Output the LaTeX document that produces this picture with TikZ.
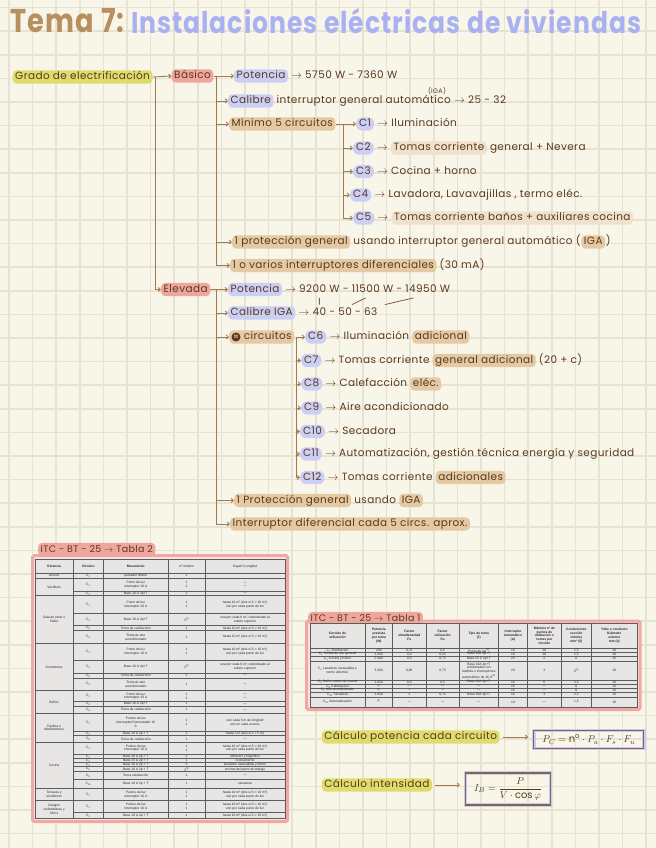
\documentclass[tikz,border=0pt]{standalone}
\usepackage{fontspec}
\usepackage{graphicx}
\setmainfont{Poppins}[LetterSpace=4]
\newfontfamily\tabfont{Liberation Sans}
\usetikzlibrary{arrows.meta,calc}
\definecolor{paper}{HTML}{F8F5E9}
\definecolor{gridc}{HTML}{E6E2D4}
\definecolor{ink}{HTML}{5A3A1C}
\definecolor{linec}{HTML}{A37A50}
\definecolor{hlY}{HTML}{DDDD6E}
\definecolor{hlR}{HTML}{EFA69E}
\definecolor{hlB}{HTML}{CBCFF5}
\definecolor{hlT}{HTML}{E4C9A2}
\definecolor{ttan}{HTML}{B88F5E}
\definecolor{tlav}{HTML}{AAB1F2}
\definecolor{pinkf}{HTML}{F2A7A4}
\definecolor{tgray}{HTML}{E8E5E5}
\definecolor{tline}{HTML}{5C5C5C}
\definecolor{lav}{HTML}{C9CCF2}
\definecolor{boxb}{HTML}{85664C}
\tikzset{
  gridline/.style={draw=gridc, line width=1.6bp},
  txt/.style={anchor=west, inner sep=0pt, text=ink, text height=7.5bp, text depth=2.2bp, font=\fontsize{10.5}{12}\selectfont},
  hl/.style={txt, inner xsep=2.5bp, inner ysep=1.8bp, rounded corners=4bp},
  hly/.style={hl, fill=hlY},
  hlr/.style={hl, fill=hlR},
  hlb/.style={hl, fill=hlB},
  hlt/.style={hl, fill=hlT},
  hltl/.style={hl, fill=hlT!55},
  hlc/.style={hl, fill=hlB, rounded corners=6bp, inner xsep=3bp},
  arr/.style={draw=linec, line width=0.9bp, -{Straight Barb[length=2.2bp,width=4bp]}},
  br/.style={draw=linec, line width=0.9bp},
  tick/.style={draw=ink!80, line width=0.8bp},
  tl/.style={draw=tline, line width=0.55bp},
  tc/.style={inner sep=0pt, align=center, text=black!85, font=\tabfont\fontsize{3.3}{3.75}\selectfont},
  th/.style={tc, font=\tabfont\bfseries\fontsize{3.3}{3.75}\selectfont},
  fbox/.style={anchor=west, draw=boxb, line width=1.1bp, text=ink, inner sep=2bp,
     preaction={draw=lav, line width=3.4bp}, font=\fontsize{10}{12}\selectfont},
  c11/.style={circle, fill=ink, text=paper, inner sep=0pt, minimum size=9bp, font=\fontsize{4.5}{5}\selectfont\bfseries},
}
\newcommand\ar{$\rightarrow$}
\newcommand\sbs[1]{\textsubscript{#1}}
\newcommand\sps[1]{\textsuperscript{#1}}
\newcommand\seg[5][2.8bp]{\node[#2] (#3) at ([xshift=#1]#4.east) {#5};}
\def\taxs{{310,365,392.7,426,459.3,498.3,527.7,561,591.7,637}}
\def\tbxs{{35,73.3,103.3,168.3,205,285}}
\newcommand\tarow[4]{%
  \draw[tl] (310,#3) -- (637,#3);
  \foreach \cell [count=\i] in {#4} {
    \pgfmathsetmacro\xl{\taxs[\i-1]}\pgfmathsetmacro\xr{\taxs[\i]}
    \node[tc] (ta-#1-\i) at ({(\xl+\xr)/2},{(#2+#3)/2}) {\cell};
  }}
\newcommand\tbrow[4]{%
  \draw[tl] (73.3,#3) -- (285,#3);
  \foreach \cell [count=\i] in {#4} {
    \pgfmathsetmacro\xl{\tbxs[\i]}\pgfmathsetmacro\xr{\tbxs[\i+1]}
    \node[tc] (tb-#1-\i) at ({(\xl+\xr)/2},{(#2+#3)/2}) {\cell};
  }}
\newcommand\tbgrp[4]{%
  \draw[tl] (35,#3) -- (285,#3);
  \node[tc] (tg-#1) at (54.15,{(#2+#3)/2}) {#4};}
\begin{document}
\begin{tikzpicture}[x=1bp,y=-1bp]
\fill[paper] (0,0) rectangle (656,848);
\useasboundingbox (0,0) rectangle (656,848);
\foreach \k in {0,...,27} \draw[gridline] ({9+23.6*\k},0) -- ({9+23.6*\k},848);
\foreach \k in {0,...,35} \draw[gridline] (0,{7.5+23.6*\k}) -- (656,{7.5+23.6*\k});

% title
\node[anchor=base west, inner sep=0, text=ttan, font=\bfseries] (ttl1) at (10.5,33) {\resizebox{114bp}{24bp}{Tema 7:}};
\node[anchor=base west, inner sep=0, text=tlav, font=\bfseries] (ttl2) at (131,33) {\resizebox{510bp}{25bp}{Instalaciones eléctricas de viviendas}};

% level 1
\node[hly] (grado) at (12.5,77) {Grado de electrificación};
\node[hlr] (basico) at (171.5,76) {Básico};
\node[hlr] (elevada) at (161,289.5) {Elevada};
\coordinate (gj) at (155.6,77);
\draw[arr] (grado.east) -- (basico.west);
\draw[arr] (gj) |- (elevada.west);

% basico branch
\coordinate (bj) at (216.7,76);
\node[hlb] (bpot) at (234,76) {Potencia};
\seg{txt}{bpott}{bpot}{\ar\ 5750 W - 7360 W}
\node[txt, anchor=center, font=\fontsize{6.5}{7}\selectfont] (iga1) at (437,90.5) {(IGA)};
\node[hlb] (bcal) at (228,101) {Calibre};
\seg{txt}{bcalt}{bcal}{interruptor general automático \ar\ 25 - 32}
\node[hlt] (bmin) at (229,124) {Mínimo 5 circuitos};
\node[hlt] (bprot) at (232,242) {1 protección general};
\seg{txt}{bprott}{bprot}{usando interruptor general automático (}
\seg[0.5bp]{hlt}{bprotiga}{bprott}{IGA}
\seg[0.5bp]{txt}{bprotp}{bprotiga}{)}
\node[hlt] (bdif) at (230,265.5) {1 o varios interruptores diferenciales};
\seg{txt}{bdift}{bdif}{(30 mA)}
\draw[br] (basico.east) -- (bj);
\foreach \n in {bpot,bcal,bmin,bprot,bdif} \draw[arr] (bj) |- (\n.west);

% C1-C5
\coordinate (mj) at (343,124);
\node[hlc] (c1) at (356,124) {C1};
\seg{txt}{c1t}{c1}{\ar\ Iluminación}
\node[hlc] (c2) at (353,148) {C2};
\seg{txt}{c2a}{c2}{\ar}
\seg{hltl}{c2b}{c2a}{Tomas corriente}
\seg{txt}{c2c}{c2b}{general + Nevera}
\node[hlc] (c3) at (353,171.5) {C3};
\seg{txt}{c3t}{c3}{\ar\ Cocina + horno}
\node[hlc] (c4) at (350,195) {C4};
\seg{txt}{c4t}{c4}{\ar\ Lavadora, Lavavajillas , termo eléc.}
\node[hlc] (c5) at (353,218) {C5};
\seg{txt}{c5a}{c5}{\ar}
\seg{hltl}{c5b}{c5a}{Tomas corriente baños + auxiliares cocina}
\draw[br] (bmin.east) -- (mj);
\foreach \n in {c1,c2,c3,c4,c5} \draw[arr] (mj) |- (\n.west);

% elevada branch
\coordinate (ej) at (216.7,289.5);
\node[hlb] (epot) at (228,289.5) {Potencia};
\seg{txt}{epota}{epot}{\ar}
\seg{txt}{v1}{epota}{9200 W}
\seg{txt}{epotb}{v1}{-}
\seg{txt}{v2}{epotb}{11500 W}
\seg{txt}{epotc}{v2}{-}
\seg{txt}{v3}{epotc}{14950 W}
\node[hlb] (ecal) at (228,313) {Calibre IGA};
\seg{txt}{ecala}{ecal}{\ar}
\seg{txt}{a1}{ecala}{40}
\seg{txt}{ecalb}{a1}{-}
\seg{txt}{a2}{ecalb}{50}
\seg{txt}{ecalc}{a2}{-}
\seg{txt}{a3}{ecalc}{63}
\draw[tick] ($(v1.south)!0.25!(a1.north)$) -- ($(v1.south)!0.75!(a1.north)$);
\draw[tick] ($(v2.south)!0.25!(a2.north)$) -- ($(v2.south)!0.75!(a2.north)$);
\draw[tick] ($(v3.south)!0.25!(a3.north)$) -- ($(v3.south)!0.75!(a3.north)$);
\node[hlt] (ecirc) at (229,337) {\hspace{9bp} circuitos};
\node[c11] (n11) at ([xshift=7bp]ecirc.west) {11};
\node[hlt] (eprot) at (234,500.5) {1 Protección general};
\seg{txt}{eprott}{eprot}{usando}
\seg{hlt}{eprotiga}{eprott}{IGA}
\node[hlt] (edif) at (230,524) {Interruptor diferencial cada 5 circs. aprox.};
\draw[br] (elevada.east) -- (ej);
\foreach \n in {epot,ecal,ecirc,eprot,edif} \draw[arr] (ej) |- (\n.west);

% C6-C12
\coordinate (cj) at ([xshift=2bp]ecirc.east);
\node[hlc] (c6) at (305,337) {C6};
\seg{txt}{c6a}{c6}{\ar\ Iluminación}
\seg{hlt}{c6b}{c6a}{adicional}
\node[hlc] (c7) at (301,360.5) {C7};
\seg{txt}{c7a}{c7}{\ar\ Tomas corriente}
\seg{hlt}{c7b}{c7a}{general adicional}
\seg{txt}{c7c}{c7b}{(20 + c)}
\node[hlc] (c8) at (301,384) {C8};
\seg{txt}{c8a}{c8}{\ar\ Calefacción}
\seg{hlt}{c8b}{c8a}{eléc.}
\node[hlc] (c9) at (301,408) {C9};
\seg{txt}{c9t}{c9}{\ar\ Aire acondicionado}
\node[hlc] (c10) at (300,431.5) {C10};
\seg{txt}{c10t}{c10}{\ar\ Secadora}
\node[hlc] (c11) at (300,454) {C11};
\seg{txt}{c11t}{c11}{\ar\ Automatización, gestión técnica energía y seguridad}
\node[hlc] (c12) at (300,477.5) {C12};
\seg{txt}{c12a}{c12}{\ar\ Tomas corriente}
\seg{hlt}{c12b}{c12a}{adicionales}
\foreach \n in {c6,c7,c8,c9,c10,c11,c12} \draw[arr] (cj) |- (\n.west);

% ---------- Tabla 2 ----------
\draw[pinkf, line width=3bp, fill=pinkf!30, rounded corners=1.5bp] (32.7,555.5) rectangle (287.5,821.5);
\node[hlr, font=\fontsize{9.5}{10}\selectfont] (t2ttl) at (38,549.5) {ITC - BT - 25 \ar\ Tabla 2};
\fill[tgray] (35,559) rectangle (285,818.3);
\draw[tl] (35,559) rectangle (285,818.3);
\foreach \x in {73.3,103.3,168.3,205} \draw[tl] (\x,559) -- (\x,818.3);
\draw[tl] (35,573.3) -- (285,573.3);
\node[th] (h2a) at (54.15,566.2) {Estancia};
\node[th] (h2b) at (88.3,566.2) {Circuito};
\node[th] (h2c) at (135.8,566.2) {Mecanismo};
\node[tc] (h2d) at (186.65,566.2) {nº mínimo};
\node[tc] (h2e) at (245,566.2) {Superf./Longitud};
\tbrow{1}{573.3}{578.3}{C\sbs{1},pulsador timbre,1,{}}
\tbgrp{a}{573.3}{578.3}{Acceso}
\tbrow{2}{578.3}{591}{C\sbs{1},Punto de luz\\Interruptor 10 A,1\\1,—\\—}
\tbrow{3}{591}{595.7}{C\sbs{2},Base 16 A 2p+T,1,—}
\tbgrp{v}{578.3}{595.7}{Vestíbulo}
\tbrow{4}{595.7}{613}{C\sbs{1},Punto de luz\\Interruptor 10 A,1\\1,hasta 10 m² (dos si S > 10 m²)\\uno por cada punto de luz}
\tbrow{5}{613}{625.7}{C\sbs{2},Base 16 A 2p+T,3\sps{(1)},{una por cada 6 m², redondeado al\\entero superior}}
\tbrow{6}{625.7}{630.7}{C\sbs{8},Toma de calefacción,1,hasta 10 m² (dos si S > 10 m²)}
\tbrow{7}{630.7}{643.3}{C\sbs{9},Toma de aire\\acondicionado,1,hasta 10 m² (dos si S > 10 m²)}
\tbgrp{s}{595.7}{643.3}{Sala de estar o\\Salón}
\tbrow{8}{643.3}{660}{C\sbs{1},Punto de luz\\Interruptor 10 A,1\\1,hasta 10 m² (dos si S > 10 m²)\\uno por cada punto de luz}
\tbrow{9}{660}{673}{C\sbs{2},Base 16 A 2p+T,3\sps{(1)},{una por cada 6 m², redondeado al\\entero superior}}
\tbrow{10}{673}{678}{C\sbs{8},Toma de calefacción,1,—}
\tbrow{11}{678}{690.7}{C\sbs{9},Toma de aire\\acondicionado,1,—}
\tbgrp{d}{643.3}{690.7}{Dormitorios}
\tbrow{12}{690.7}{701.7}{C\sbs{1},Punto de luz\\Interruptor 10 A,1\\1,—\\—}
\tbrow{13}{701.7}{706}{C\sbs{5},Base 16 A 2p+T,1,—}
\tbrow{14}{706}{713.3}{C\sbs{8},Toma de calefacción,1,—}
\tbgrp{b}{690.7}{713.3}{Baños}
\tbrow{15}{713.3}{731.7}{C\sbs{1},Puntos de luz\\Interruptor/Conmutador 10\\A,1\\1,uno cada 5 m de longitud\\uno en cada acceso}
\tbrow{16}{731.7}{735.7}{C\sbs{2},Base 16 A 2p + T,1,hasta 5 m (dos si L > 5 m)}
\tbrow{17}{735.7}{742.3}{C\sbs{8},Toma de calefacción,1,—}
\tbgrp{p}{713.3}{742.3}{Pasillos o\\distribuidores}
\tbrow{18}{742.3}{754}{C\sbs{1},Puntos de luz\\Interruptor 10 A,1\\1,hasta 10 m² (dos si S > 10 m²)\\uno por cada punto de luz}
\tbrow{19}{754}{758.7}{C\sbs{2},Base 16 A 2p + T,2,extractor y frigorífico}
\tbrow{20}{758.7}{762.7}{C\sbs{3},Base 25 A 2p + T,1,cocina/horno}
\tbrow{21}{762.7}{766.7}{C\sbs{4},Base 16 A 2p + T,3,{lavadora, lavavajillas y termo}}
\tbrow{22}{766.7}{771.7}{C\sbs{5},Base 16 A 2p + T,3\sps{(2)},encima del plano de trabajo}
\tbrow{23}{771.7}{779.3}{C\sbs{8},Toma calefacción,1,—}
\tbrow{24}{779.3}{788.3}{C\sbs{10},Base 16 A 2p + T,1,secadora}
\tbgrp{c}{742.3}{788.3}{Cocina}
\tbrow{25}{788.3}{800.7}{C\sbs{1},Puntos de luz\\Interruptor 10 A,1\\1,hasta 10 m² (dos si S > 10 m²)\\uno por cada punto de luz}
\tbgrp{t}{788.3}{800.7}{Terrazas y\\Vestidores}
\tbrow{26}{800.7}{812.7}{C\sbs{1},Puntos de luz\\Interruptor 10 A,1\\1,hasta 10 m² (dos si S > 10 m²)\\uno por cada punto de luz}
\tbrow{27}{812.7}{818.3}{C\sbs{2},Base 16 A 2p + T,1,hasta 10 m² (dos si S > 10 m²)}
\tbgrp{g}{800.7}{818.3}{Garajes\\unifamiliares y\\Otros}

% ---------- Tabla 1 ----------
\draw[pinkf, line width=3bp, fill=pinkf!30, rounded corners=1.5bp] (306.7,621) rectangle (640,709.5);
\node[hlr, font=\fontsize{9.5}{10}\selectfont] (t1ttl) at (308,618.5) {ITC - BT - 25 \ar\ Tabla 1};
\fill[tgray] (310,623) rectangle (637,707.3);
\draw[tl] (310,623) rectangle (637,707.3);
\foreach \x in {365,392.7,426,459.3,498.3,527.7,561,591.7} \draw[tl] (\x,623) -- (\x,707.3);
\draw[tl] (310,648.3) -- (637,648.3);
\foreach \cell [count=\i] in {{Circuito de\\utilización},{Potencia\\prevista\\por toma\\(W)},{Factor\\simultaneidad\\Fs},{Factor\\utilización\\Fu},{Tipo de toma\\(7)},{Interruptor\\Automático\\(A)},{Máximo nº de\\puntos de\\utilización o\\tomas por\\circuito},{Conductores\\sección\\mínima\\mm² (5)},{Tubo o conducto\\Diámetro\\externo\\mm (4)}} {
  \pgfmathsetmacro\xl{\taxs[\i-1]}\pgfmathsetmacro\xr{\taxs[\i]}
  \node[th] (tah-\i) at ({(\xl+\xr)/2},635.6) {\cell};
}
\tarow{1}{648.3}{652.3}{C\sbs{1} Iluminación,200,{0,75},{0,5},Punto de luz\sps{(9)},10,30,{1,5},16}
\tarow{2}{652.3}{656}{C\sbs{2} Tomas de uso general,3.450,{0,2},{0,25},Base 16A 2p+T,16,20,{2,5},20}
\tarow{3}{656}{661}{C\sbs{3} Cocina y horno,5.400,{0,5},{0,75},Base 25 A 2p+T,25,2,6,25}
\tarow{4}{661}{680}{{C\sbs{4} Lavadora, lavavajillas y\\termo eléctrico},3.450,{0,66},{0,75},Base 16A 2p+T\\combinadas con\\fusibles o interruptores\\automáticos de 16 A\sps{(8)},20,3,4\sps{(6)},20}
\tarow{5}{680}{684.3}{{C\sbs{5} Baño, cuarto de cocina},3.450,{0,4},{0,5},Base 16A 2p+T,16,6,{2,5},20}
\tarow{8}{684.3}{688.3}{C\sbs{8} Calefacción,\sps{(2)},—,—,—,25,—,6,25}
\tarow{9}{688.3}{692.3}{C\sbs{9} Aire acondicionado,\sps{(2)},—,—,—,25,—,6,25}
\tarow{10}{692.3}{697.3}{C\sbs{10} Secadora,3.450,1,{0,75},Base 16A 2p+T,16,1,{2,5},20}
\node[tc] (ta-11-1) at (337.5,702) {C\sbs{11} Automatización};
\foreach \cell [count=\i from 2] in {\sps{(4)},—,—,—,10,—,{1,5},16} {
  \pgfmathsetmacro\xl{\taxs[\i-1]}\pgfmathsetmacro\xr{\taxs[\i]}
  \node[tc] (ta-11-\i) at ({(\xl+\xr)/2},702) {\cell};
}

% ---------- formulas ----------
\node[hly] (calcp) at (321.7,737) {Cálculo potencia cada circuito};
\node[fbox, minimum width=110bp, minimum height=17.5bp] (fp) at (533.3,739.5) {$P_C = \mathrm{n}^{\mathrm{o}}\cdot P_a\cdot F_s\cdot F_u$};
\draw[arr] ([xshift=3bp]calcp.east) -- ([xshift=-5bp]calcp.east -| fp.west);
\node[hly] (calci) at (321.7,785) {Cálculo intensidad};
\node[fbox, minimum width=85bp, minimum height=32bp] (fi) at (465,789) {$I_B = {\displaystyle\frac{P}{V\cdot\cos\varphi}}$};
\draw[arr] ([xshift=3bp]calci.east) -- ([xshift=-5bp]calci.east -| fi.west);
\end{tikzpicture}
\end{document}
